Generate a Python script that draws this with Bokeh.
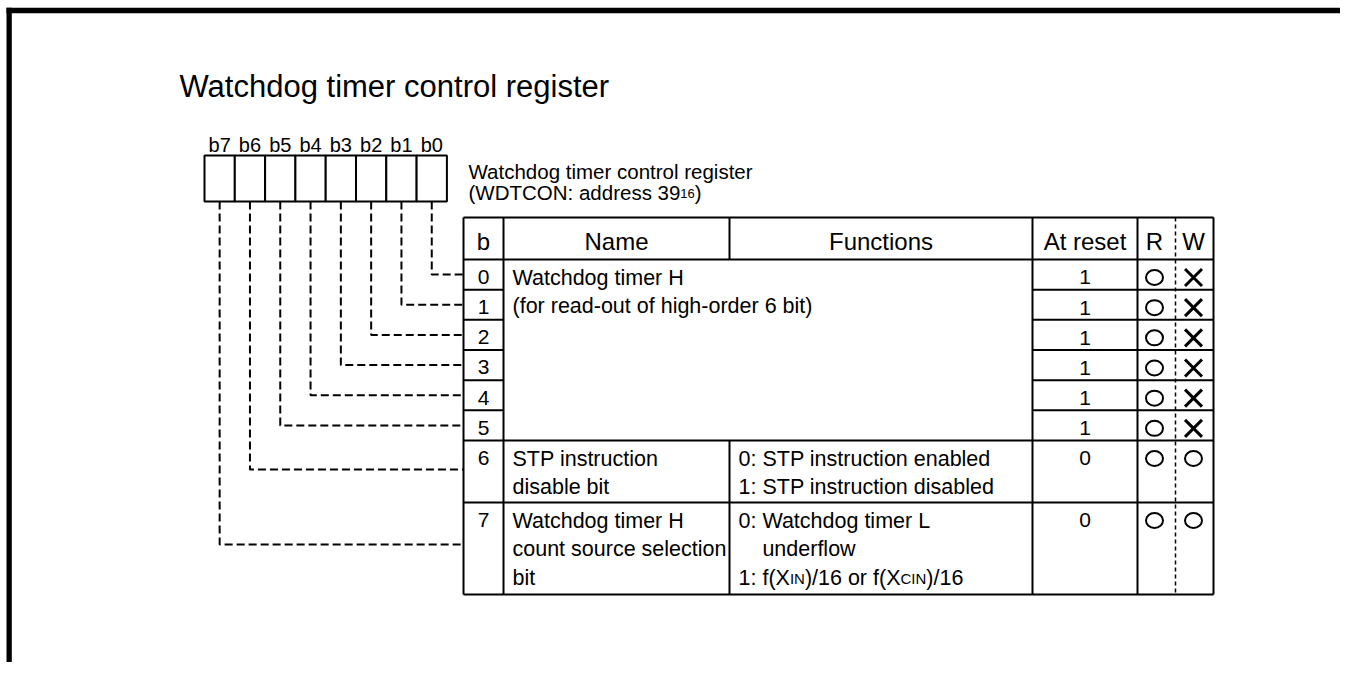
from bokeh.plotting import figure
from bokeh.models import Range1d
from bokeh.core.properties import value
from bokeh.embed import file_html
from bokeh.resources import INLINE

# ---------------- data ----------------
title = "Watchdog timer control register"
register_name = "Watchdog timer control register"
register_addr = "(WDTCON: address 39"
register_addr_sub = "16"
register_addr_end = ")"
bit_labels = ["b7", "b6", "b5", "b4", "b3", "b2", "b1", "b0"]
header_labels = ["b", "Name", "Functions", "At reset", "R", "W"]
bit_numbers = ["0", "1", "2", "3", "4", "5", "6", "7"]
reset_values = ["1", "1", "1", "1", "1", "1", "0", "0"]
read_access = ["O", "O", "O", "O", "O", "O", "O", "O"]
write_access = ["X", "X", "X", "X", "X", "X", "O", "O"]
group_rows = [[0, 1, 2, 3, 4, 5], [6], [7]]
name_lines = [
    ["Watchdog timer H", "(for read-out of high-order 6 bit)"],
    ["STP instruction", "disable bit"],
    ["Watchdog timer H", "count source selection", "bit"],
]
# function lines: list of segments (text, small-caps flag); leading spaces = hanging indent
func_lines = [
    [],
    [[("0: STP instruction enabled", False)], [("1: STP instruction disabled", False)]],
    [[("0: Watchdog timer L", False)], [("   underflow", False)],
     [("1: f(X", False), ("IN", True), (")/16 or f(X", False), ("CIN", True), (")/16", False)]],
]

# ---------------- layout ----------------
W, H = 1340, 662
FONT = "Liberation Sans"
ARIAL = {' ': 278, '(': 333, ')': 333, '/': 278, ':': 278, 'A': 667, 'C': 722, 'D': 722,
         'I': 278, 'N': 722, 'O': 778, 'T': 611, 'W': 944, 'X': 667, 'a': 556, 'd': 556,
         'e': 556, 'f': 278, 'o': 556, 'r': 333, 's': 500, 'i': 222, 'l': 222, 't': 278}


def tw(s, size):
    return sum(ARIAL.get(c, 556) for c in s) / 1000.0 * size


def bl(y, size):
    # renderer places the glyph centre at y; convert a wanted baseline to that
    return y - 0.36 * size


p = figure(width=W, height=H, x_range=Range1d(0, W), y_range=Range1d(H, 0),
           output_backend="svg", toolbar_location=None, min_border=0)
p.axis.visible = False
p.grid.visible = False
p.outline_line_color = None
p.background_fill_color = "white"
p.border_fill_color = "white"

# page frame (top and left edges)
p.quad(left=[6, 6], right=[W, 11.3], top=[7.3, 7.3], bottom=[12.7, H],
       fill_color="black", line_color=None)


def txt(xs, ys, ts, size, align="left"):
    p.text(x=xs, y=[bl(y, size) for y in ys], text=ts, text_font=value(FONT),
           text_font_size=f"{size}px", text_baseline="alphabetic", text_align=align,
           text_color="black")


# title
txt([179], [97], [title], 31)

# register bit boxes
bx0, bw, by0, by1 = 204, 30.3, 155, 201
nb = len(bit_labels)
bcx = [bx0 + bw * (i + 0.5) for i in range(nb)]
p.quad(left=[bx0 + bw * i for i in range(nb)], right=[bx0 + bw * (i + 1) for i in range(nb)],
       top=[by0] * nb, bottom=[by1] * nb, fill_color="white", line_color="black", line_width=2)
txt(bcx, [152] * nb, bit_labels, 20, "center")

# register name + address
SUB = 20.5
txt([468], [178], [register_name], SUB)
ax = 468
txt([ax], [199], [register_addr], SUB)
ax2 = ax + tw(register_addr, SUB)
txt([ax2], [199 - 1.0], [register_addr_sub], 13)
ax3 = ax2 + tw(register_addr_sub, 13)
txt([ax3], [199], [register_addr_end], SUB)

# table geometry
cx = [463, 503, 729, 1032, 1137, 1175, 1213]
ht, hb = 217, 259
nrow = len(bit_numbers)
small_h = (440 - hb) / 6.0
row_h = [small_h] * 6 + [62, 92]
row_top = [hb]
for h in row_h:
    row_top.append(row_top[-1] + h)
tb = row_top[-1]

# table lines
sx0, sy0, sx1, sy1 = [], [], [], []


def seg(a, b, c, d):
    sx0.append(a); sy0.append(b); sx1.append(c); sy1.append(d)


seg(cx[0], ht, cx[-1], ht)
seg(cx[0], hb, cx[-1], hb)
seg(cx[0], tb, cx[-1], tb)
for x in [cx[0], cx[1], cx[3], cx[4], cx[6]]:
    seg(x, ht, x, tb)
seg(cx[2], ht, cx[2], hb)
seg(cx[2], row_top[6], cx[2], tb)
for r in range(1, nrow):
    y = row_top[r]
    if r < 6:
        seg(cx[0], y, cx[1], y)
        seg(cx[3], y, cx[6], y)
    else:
        seg(cx[0], y, cx[6], y)
p.segment(x0=sx0, y0=sy0, x1=sx1, y1=sy1, line_color="black", line_width=2)
p.segment(x0=[cx[5]], y0=[ht], x1=[cx[5]], y1=[tb], line_color="black", line_width=1.5,
          line_dash="4 3")

# header texts
hx = [(cx[0] + cx[1]) / 2, (cx[1] + cx[2]) / 2, (cx[2] + cx[3]) / 2, (cx[3] + cx[4]) / 2, 1154, 1193]
txt(hx, [ht + 33] * len(hx), header_labels, 24, "center")

# bit numbers and reset values
txt([(cx[0] + cx[1]) / 2] * nrow, [row_top[r] + 25 for r in range(nrow)], bit_numbers, 21, "center")
txt([(cx[3] + cx[4]) / 2] * nrow, [row_top[r] + 25.5 for r in range(nrow)], reset_values, 21, "center")

# R / W marks
rwx, rwy, cxs, cys = [], [], [], []
for r in range(nrow):
    y = row_top[r] + 18
    for col_x, mark in ((1154, read_access[r]), (1193, write_access[r])):
        if mark == "O":
            rwx.append(col_x); rwy.append(y)
        else:
            cxs.append(col_x); cys.append(y)
p.ellipse(x=rwx, y=rwy, width=17, height=15, fill_color=None, line_color="black", line_width=2)
p.scatter(x=cxs, y=cys, marker="x", size=24, line_color="black", line_width=3)

# names and functions
BODY = 21.5
SMALL = 15
nx, ny, nt = [], [], []
fx, fy, ft, fsx, fsy, fst = [], [], [], [], [], []
LS = 28.5
for g, rows in enumerate(group_rows):
    top = row_top[rows[0]]
    for k, line in enumerate(name_lines[g]):
        nx.append(512); ny.append(top + 26 + LS * k); nt.append(line)
    for k, segs in enumerate(func_lines[g]):
        x = 738
        y = top + 26 + LS * k
        for t, small in segs:
            if small:
                fsx.append(x); fsy.append(y - 2.0); fst.append(t)
                x += tw(t, SMALL)
            else:
                stripped = t.lstrip(" ")
                if len(stripped) < len(t):
                    x += tw("0: ", BODY)   # hanging indent
                fx.append(x); fy.append(y); ft.append(stripped)
                x += tw(stripped, BODY)
txt(nx, ny, nt, BODY)
txt(fx, fy, ft, BODY)
txt(fsx, fsy, fst, SMALL)

# dashed connectors from register bits to table rows
link_off = [small_h / 2] * 6 + [29, 42]
mxs, mys = [], []
for i in range(nb):
    bit = nb - 1 - i          # b7 is leftmost
    y = row_top[bit] + link_off[bit]
    mxs.append([bcx[i], bcx[i], cx[0]])
    mys.append([by1, y, y])
p.multi_line(xs=mxs, ys=mys, line_color="black", line_width=2, line_dash="8 4")

open("out.html", "w").write(file_html(p, INLINE))
